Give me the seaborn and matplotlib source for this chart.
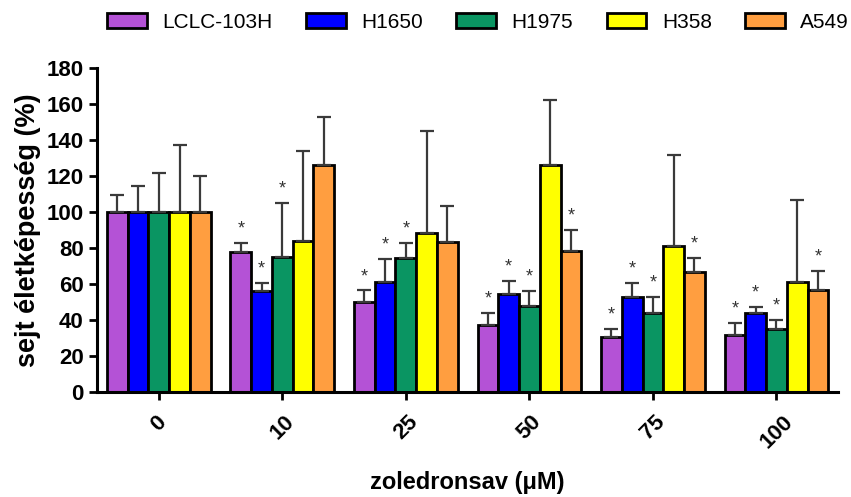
import numpy as np
import pandas as pd
import matplotlib
matplotlib.use("Agg")
import matplotlib.pyplot as plt
import seaborn as sns
from matplotlib.patches import Patch

doses = ["0", "10", "25", "50", "75", "100"]
cell_lines = ["LCLC-103H", "H1650", "H1975", "H358", "A549"]
colors = ["#B452D6", "#0000FF", "#0A9562", "#FFFF00", "#FF9E40"]

means = {
    "LCLC-103H": [100, 77.6, 49.8, 37.1, 30.8, 31.8],
    "H1650":     [100, 56.1, 60.9, 54.3, 52.7, 43.8],
    "H1975":     [100, 75.0, 74.7, 47.6, 44.2, 34.9],
    "H358":      [100, 83.8, 88.4, 126.0, 81.0, 61.1],
    "A549":      [100, 126.0, 83.2, 78.6, 66.9, 56.9],
}
errs = {
    "LCLC-103H": [9.4, 5.3, 6.7, 6.7, 4.5, 6.5],
    "H1650":     [14.4, 4.5, 13.1, 7.4, 7.9, 3.4],
    "H1975":     [21.9, 30.2, 8.2, 8.5, 8.9, 5.2],
    "H358":      [37.0, 50.0, 56.7, 36.0, 50.5, 45.5],
    "A549":      [20.0, 26.7, 20.1, 11.7, 7.8, 10.2],
}
stars = {
    "LCLC-103H": [0, 1, 1, 1, 1, 1],
    "H1650":     [0, 1, 1, 1, 1, 1],
    "H1975":     [0, 1, 1, 1, 1, 1],
    "H358":      [0, 0, 0, 0, 0, 0],
    "A549":      [0, 0, 0, 1, 1, 1],
}

rows = []
for cl in cell_lines:
    for i, d in enumerate(doses):
        rows.append({"dose": d, "line": cl, "val": means[cl][i]})
df = pd.DataFrame(rows)

sns.set_style("white")
plt.rcParams["font.family"] = ["Liberation Sans", "DejaVu Sans"]
plt.rcParams["text.color"] = "black"
plt.rcParams["axes.labelcolor"] = "black"

fig = plt.figure(figsize=(8.51, 4.97), dpi=100)
ax = fig.add_axes([0.114, 0.211, 0.871, 0.652])

sns.barplot(data=df, x="dose", y="val", hue="line", order=doses,
            hue_order=cell_lines, palette=colors, width=0.84,
            edgecolor="black", linewidth=2, errorbar=None, ax=ax,
            saturation=1, legend=False)

for cont, cl in zip(ax.containers, cell_lines):
    xs = [p.get_x() + p.get_width() / 2 for p in cont.patches]
    hs = [p.get_height() for p in cont.patches]
    e = errs[cl]
    ax.errorbar(xs, hs, yerr=[np.zeros(len(e)), e], fmt="none",
                ecolor="#3a3a3a", elinewidth=1.6, capsize=5, capthick=1.6,
                zorder=1)
    for x, h, ee, s in zip(xs, hs, e, stars[cl]):
        if s:
            ax.text(x, h + ee + 3, "*", ha="center", va="bottom",
                    fontsize=13, color="#333333")

ax.set_ylim(0, 180)
ax.set_xlim(-0.5, 5.5)
ax.set_yticks(np.arange(0, 181, 20))
for sp in ["top", "right"]:
    ax.spines[sp].set_visible(False)
for sp in ["left", "bottom"]:
    ax.spines[sp].set_linewidth(2.2)
    ax.spines[sp].set_color("black")
ax.tick_params(axis="both", direction="out", length=6, width=2, colors="black",
               labelsize=16, left=True, bottom=True)
for lab in ax.get_yticklabels():
    lab.set_fontweight("bold")
ax.set_xticks(range(len(doses)))
ax.set_xticklabels(doses, rotation=45, ha="center", fontweight="bold")
ax.tick_params(axis="x", pad=8)
ax.set_ylabel("sejt életképesség (%)", fontsize=19.5, fontweight="bold",
              labelpad=4, color="black")
ax.set_xlabel("zoledronsav (μM)", fontsize=17, fontweight="bold",
              labelpad=13, color="black")

handles = [Patch(facecolor=c, edgecolor="black", linewidth=2) for c in colors]
fig.legend(handles, cell_lines, loc="center", bbox_to_anchor=(0.562, 0.955),
           ncol=5, frameon=False, fontsize=15, handlelength=1.9,
           handleheight=0.7, columnspacing=1.6, handletextpad=0.75,
           labelcolor="black")

fig.savefig("out.png", dpi=100)
